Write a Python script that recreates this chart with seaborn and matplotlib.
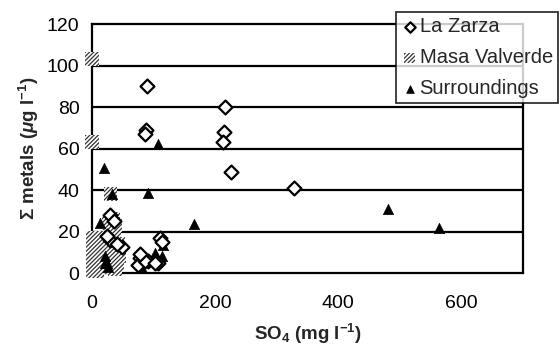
import matplotlib
matplotlib.use("Agg")
import matplotlib.pyplot as plt
import seaborn as sns
import pandas as pd

# ---- data ----
lz_x = [89, 88, 86, 216, 214, 213, 226, 328, 29, 36, 29, 48, 78, 75, 91, 107, 110, 113, 86, 102, 78, 40, 25]
lz_y = [90, 69, 67, 80, 68, 63, 48.7, 41, 28, 25, 16, 12.5, 7, 4, 6, 5, 17, 15, 6, 5, 9, 14, 18]

mv_x = [0, 0, 1, 8, 1, 8, 1, 8, 1, 8, 1, 8, 1, 8, 12, 12, 12, 30, 34, 38, 28, 36, 32, 40, 44, 35, 30, 42, 38]
mv_y = [103, 63, 1, 1, 4, 4, 7, 7, 10, 10, 13, 13, 17, 17, 3, 9, 15, 38, 26, 23, 24, 12, 10, 5, 8, 17, 3, 14, 2]

su_x = [20, 107, 91, 166, 481, 564, 13, 115, 102, 113, 81, 21, 21, 24, 26, 32]
su_y = [50.6, 62, 38.5, 23.6, 31, 21.5, 24, 13.5, 9.6, 8, 2.5, 8, 5, 5, 3, 38]

x_ticks = [0, 200, 400, 600]
y_ticks = [0, 20, 40, 60, 80, 100, 120]

sns.set_theme(style="white")
plt.rcParams["font.family"] = ["Liberation Sans", "DejaVu Sans"]
plt.rcParams["mathtext.fontset"] = "custom"
plt.rcParams["mathtext.rm"] = "Liberation Sans:bold"
plt.rcParams["mathtext.bf"] = "Liberation Sans:bold"
plt.rcParams["mathtext.it"] = "Liberation Sans:italic:bold"
plt.rcParams["hatch.linewidth"] = 0.9

fig = plt.figure(figsize=(5.59, 3.5), dpi=100)
ax = fig.add_axes([0.1646, 0.22, 0.771, 0.7114])

for yv in y_ticks[1:-1]:
    ax.axhline(yv, color="black", lw=1.6, zorder=1)

df_lz = pd.DataFrame({"x": lz_x, "y": lz_y})
df_mv = pd.DataFrame({"x": mv_x, "y": mv_y})
df_su = pd.DataFrame({"x": su_x, "y": su_y})

sns.scatterplot(data=df_mv, x="x", y="y", ax=ax, marker="s", s=100,
                facecolor="white", edgecolor="#333333", linewidth=0,
                hatch="////////", label="Masa Valverde", zorder=3, clip_on=False)
sns.scatterplot(data=df_su, x="x", y="y", ax=ax, marker="^", s=55,
                color="black", edgecolor="black", linewidth=0.5,
                label="Surroundings", zorder=4, clip_on=False)
sns.scatterplot(data=df_lz, x="x", y="y", ax=ax, marker="D", s=50,
                facecolor="white", edgecolor="black", linewidth=1.6,
                label="La Zarza", zorder=5, clip_on=False)

ax.set_xlim(0, 700)
ax.set_ylim(0, 120)
ax.set_xticks(x_ticks)
ax.set_yticks(y_ticks)
ax.tick_params(axis="both", direction="out", length=6, width=1.5,
               color="black", labelsize=14, labelcolor="black")
ax.tick_params(axis="x", pad=10)
ax.tick_params(axis="y", pad=3)
for sp in ax.spines.values():
    sp.set_color("black")
    sp.set_linewidth(1.6)

ax.set_xlabel(r"SO$_4$ (mg l$^{-1}$)", fontsize=13.5, fontweight="bold", labelpad=7)
ax.set_ylabel(r"Σ metals ($\mu$g l$^{-1}$)", fontsize=13.5, fontweight="bold", labelpad=4)

h, l = ax.get_legend_handles_labels()
order = [l.index("La Zarza"), l.index("Masa Valverde"), l.index("Surroundings")]
leg = ax.legend([h[i] for i in order], [l[i] for i in order],
                loc="upper right", bbox_to_anchor=(1.081, 1.048),
                frameon=True, fancybox=False, fontsize=14.5,
                handletextpad=0.1, handlelength=0.8, borderpad=0.25,
                labelspacing=0.6, markerscale=0.75, borderaxespad=0)
leg.get_frame().set_edgecolor("black")
leg.get_frame().set_linewidth(1.3)
leg.set_zorder(10)

fig.savefig("out.png", dpi=100)
